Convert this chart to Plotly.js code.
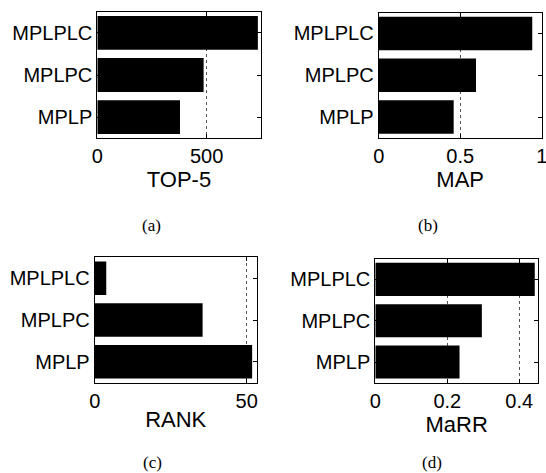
<!DOCTYPE html>
<html><head><meta charset="utf-8">
<script src="https://cdn.plot.ly/plotly-3.0.1.min.js"></script>
<style>html,body{margin:0;padding:0;background:#fff}#chart{width:546px;height:473px}</style>
</head><body><div id="chart"></div>
<script>
const methods = ['MPLP', 'MPLPC', 'MPLPLC'];
const top5 = [378, 486, 734];
const mapVals = [0.46, 0.597, 0.942];
const rankVals = [51.8, 35.5, 3.8];
const marrVals = [0.234, 0.296, 0.443];
const metricTitles = ['TOP-5', 'MAP', 'RANK', 'MaRR'];
const captions = ['(a)', '(b)', '(c)', '(d)'];
const xRanges = [[0, 747], [0, 1], [0, 53.3], [0, 0.452]];
const xTicks = [[0, 500], [0, 0.5, 1], [0, 50], [0, 0.2, 0.4]];
const xTickText = [['0', '500'], ['0', '0.5', '1'], ['0', '50'], ['0', '0.2', '0.4']];

const W = 546, H = 473;
const boxes = [
  [97.3, 260.7, 11.7, 138.3],
  [378.7, 541.7, 12.5, 138],
  [94.7, 256.7, 257.3, 382.7],
  [375.3, 538, 258.7, 382.7]
];
const series = [top5, mapVals, rankVals, marrVals];

const data = [];
const layout = {
  width: W, height: H,
  margin: {l: 0, r: 0, t: 0, b: 0},
  paper_bgcolor: '#fff', plot_bgcolor: '#fff',
  showlegend: false, bargap: 0.2,
  font: {family: 'Liberation Sans, Arial, sans-serif', color: '#000'},
  annotations: []
};
const font = 'Liberation Sans, Arial, sans-serif';
for (let i = 0; i < 4; i++) {
  const sfx = i === 0 ? '' : String(i + 1);
  data.push({
    type: 'bar', orientation: 'h', x: series[i], y: methods,
    xaxis: 'x' + sfx, yaxis: 'y' + sfx,
    marker: {color: '#000', line: {color: '#000', width: 0}},
    hoverinfo: 'none'
  });
  const b = boxes[i];
  layout['xaxis' + sfx] = {
    domain: [b[0] / W, b[1] / W], anchor: 'y' + sfx,
    range: xRanges[i], tickmode: 'array', tickvals: xTicks[i], ticktext: xTickText[i],
    showline: true, linecolor: '#000', linewidth: 1, mirror: 'ticks',
    ticks: 'inside', ticklen: 4, tickcolor: '#000',
    showgrid: true, gridcolor: '#555', griddash: 'dot', gridwidth: 1,
    zeroline: false, ticklabelstandoff: 0, ticklabeloverflow: 'allow',
    tickfont: {family: font, size: 20, color: '#000'},
    title: {text: metricTitles[i], font: {family: font, size: 22, color: '#000'}, standoff: 0}
  };
  layout['yaxis' + sfx] = {
    domain: [1 - b[3] / H, 1 - b[2] / H], anchor: 'x' + sfx,
    type: 'category', categoryorder: 'array', categoryarray: methods,
    showline: true, linecolor: '#000', linewidth: 1, mirror: 'ticks',
    ticks: 'inside', ticklen: 4, tickcolor: '#000',
    showgrid: false, zeroline: false,
    tickfont: {family: font, size: 20, color: '#000'}
  };
  layout.annotations.push({
    text: captions[i], xref: 'paper', yref: 'paper',
    x: [151, 428, 152, 432][i] / W,
    y: 1 - [225, 225, 462, 462][i] / H,
    xanchor: 'center', yanchor: 'middle', showarrow: false,
    font: {family: 'Liberation Serif, Times New Roman, serif', size: 17, color: '#000'}
  });
}
Plotly.newPlot('chart', data, layout, {displayModeBar: false, staticPlot: true});
</script>
</body></html>
